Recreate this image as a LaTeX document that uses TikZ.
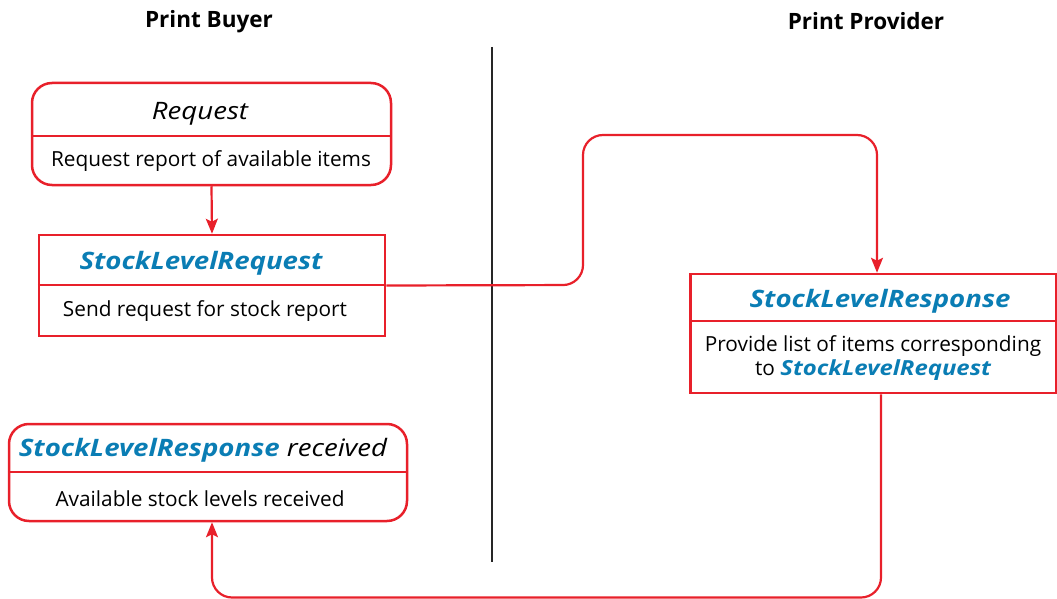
\documentclass[tikz,border=0pt]{standalone}
\usepackage{fontspec}
\setmainfont{Open Sans}
\newfontfamily\ttlfont[FakeStretch=1.15]{Open Sans}
\usetikzlibrary{arrows.meta,calc}
\definecolor{cred}{RGB}{232,32,42}
\definecolor{cblue}{RGB}{10,125,180}
\newcommand{\blu}[1]{\textcolor{cblue}{\bfseries\itshape #1}}
\newcommand{\blb}[1]{\textcolor{cblue}{\ttlfont\bfseries\itshape #1}}
\tikzset{
  boxline/.style={draw=cred,line width=2.5pt},
  ttl/.style={font=\ttlfont\fontsize{24}{28}\selectfont, inner sep=0pt},
  bdy/.style={font=\fontsize{20.8}{24}\selectfont, inner sep=0pt, align=center},
  hdr/.style={font=\fontsize{22.5}{26}\selectfont\bfseries, inner sep=0pt},
  conn/.style={draw=cred,line width=2.2pt,rounded corners=20pt},
  tip/.style={-{Stealth[length=15pt,width=12pt,inset=3pt]}}
}
\begin{document}
\begin{tikzpicture}[x=1pt,y=-1pt]
\useasboundingbox (0,0) rectangle (1057,599);
% headers
\node[hdr] (h1) at (209,21.5) {Print Buyer};
\node[hdr] (h2) at (866,21.5) {Print Provider};
% divider
\draw[line width=2.5pt,black!85] (492,47) coordinate (d1) -- (492,562) coordinate (d2);
% box 1
\node[boxline,rounded corners=20pt,minimum width=359pt,minimum height=102pt,inner sep=0pt] (req) at (211.5,134) {};
\draw[boxline] (req.west |- 0,136) -- (req.east |- 0,136);
\node[ttl] (reqt) at (200,113.5) {\itshape Request};
\node[bdy] (reqb) at (211,161) {Request report of available items};
% box 2
\node[boxline,minimum width=346pt,minimum height=101pt,inner sep=0pt] (slr) at (212,285.5) {};
\draw[boxline] (slr.west |- 0,285) -- (slr.east |- 0,285);
\node[ttl] (slrt) at (201,263.5) {\blu{StockLevelRequest}};
\node[bdy] (slrb) at (205,311) {Send request for stock report};
% box 3
\node[boxline,minimum width=366pt,minimum height=119pt,inner sep=0pt] (resp) at (873.5,333.5) {};
\draw[boxline] (resp.west |- 0,321) -- (resp.east |- 0,321);
\node[ttl] (respt) at (880,301.5) {\blu{StockLevelResponse}};
\node[bdy] (respb) at (873,358) {Provide list of items corresponding\\to \blb{StockLevelRequest}};
% box 4
\node[boxline,rounded corners=20pt,minimum width=398pt,minimum height=97pt,inner sep=0pt] (rcv) at (208,472.5) {};
\draw[boxline] (rcv.west |- 0,472) -- (rcv.east |- 0,472);
\node[ttl] (rcvt) at (203,450.5) {\blu{StockLevelResponse} \itshape received};
\node[bdy] (rcvb) at (200,499) {Available stock levels received};
% connectors
\draw[conn,tip] (req.south) -- (slr.north);
\draw[conn,tip] (slr.east) -- (583,285) -- (583,135) -- (877,135) -- (877,0 |- resp.north);
\draw[conn,tip] (881,0 |- resp.south) -- (881,597.5) -- (212,597.5) -- (212,0 |- rcv.south);
\end{tikzpicture}
\end{document}
